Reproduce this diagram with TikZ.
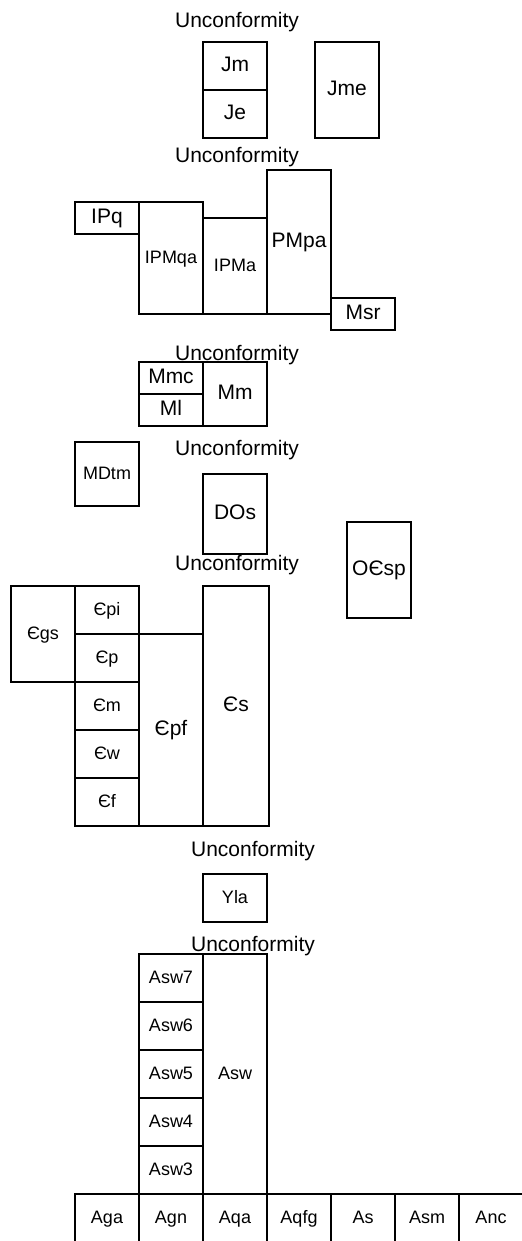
\documentclass[tikz,border=0pt]{standalone}
\usepackage{fontspec}
\setmainfont{Liberation Sans}
\newcommand{\bigtext}{\fontsize{15.75}{18}\selectfont}
\newcommand{\smalltext}{\fontsize{13.5}{16}\selectfont}
\begin{document}
\begin{tikzpicture}[x=0.75pt, y=-0.75pt,
    bed/.style={draw, line width=1.1pt, inner sep=0pt, minimum width=48pt,
        text height=0.9em, text depth=0.1em, font=\bigtext},
    thinbed/.style={bed, font=\smalltext},
    gap/.style={anchor=base, font=\bigtext}]
    \useasboundingbox (0,0) rectangle (521,1241);
    % Jurassic
    \node[gap] (u1) at (237,27.3) {Unconformity};
    \node[bed, minimum height=36pt] (jm) at (235,66) {Jm};
    \node[bed, minimum height=36pt] (je) at (235,114) {Je};
    \node[bed, minimum height=72pt] (jme) at (347,90) {Jme};
    % Pennsylvanian - Permian
    \node[gap] (u2) at (237,162.7) {Unconformity};
    \node[bed, minimum height=24pt] (ipq) at (107,218) {IPq};
    \node[thinbed, minimum height=84pt] (ipmqa) at (171,258) {IPMqa};
    \node[thinbed, minimum height=72pt] (ipma) at (235,266) {IPMa};
    \node[bed, minimum height=108pt] (pmpa) at (299,242) {PMpa};
    \node[bed, minimum height=24pt] (msr) at (363,314) {Msr};
    % Mississippian
    \node[gap] (u3) at (237,360) {Unconformity};
    \node[bed, minimum height=24pt] (mmc) at (171,378) {Mmc};
    \node[bed, minimum height=24pt] (ml) at (171,410) {Ml};
    \node[bed, minimum height=48pt] (mm) at (235,394) {Mm};
    \node[thinbed, minimum height=48pt] (mdtm) at (107,474) {MDtm};
    % Devonian - Ordovician
    \node[gap] (u4) at (237,455.7) {Unconformity};
    \node[bed, minimum height=60pt] (dos) at (235,514) {DOs};
    \node[bed, minimum height=72pt] (ocsp) at (379,570) {OЄsp};
    % Cambrian
    \node[gap] (u5) at (237,570.7) {Unconformity};
    \node[thinbed, minimum height=72pt] (cgs) at (43,634) {Єgs};
    \node[thinbed, minimum height=36pt] (cpi) at (107,610) {Єpi};
    \node[thinbed, minimum height=36pt] (cp) at (107,658) {Єp};
    \node[thinbed, minimum height=36pt] (cm) at (107,706) {Єm};
    \node[thinbed, minimum height=36pt] (cw) at (107,754) {Єw};
    \node[thinbed, minimum height=36pt] (cf) at (107,802) {Єf};
    \node[bed, minimum height=144pt] (cpf) at (171,730) {Єpf};
    \node[bed, minimum height=180pt, minimum width=49.5pt] (cs) at (236,706) {Єs};
    % Proterozoic
    \node[gap] (u6) at (253,856) {Unconformity};
    \node[thinbed, minimum height=36pt] (yla) at (235,898) {Yla};
    % Archean
    \node[gap] (u7) at (253,951.7) {Unconformity};
    \foreach \n/\y in {7/978, 6/1026, 5/1074, 4/1122, 3/1170}
        \node[thinbed, minimum height=36pt] (asw\n) at (171,\y) {Asw\n};
    \node[thinbed, minimum height=180pt] (asw) at (235,1074) {Asw};
    \foreach \name/\x in {Aga/107, Agn/171, Aqa/235, Aqfg/299, As/363, Asm/427, Anc/491}
        \node[thinbed, minimum height=36pt] (\name) at (\x,1218) {\name};
\end{tikzpicture}
\end{document}
